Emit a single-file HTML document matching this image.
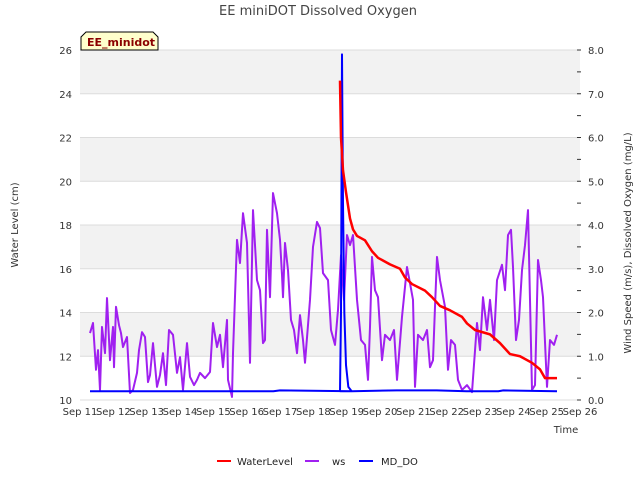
<!DOCTYPE html>
<html><head><meta charset="utf-8"><style>
body{margin:0;background:#fff;width:640px;height:480px;overflow:hidden;font-family:"Liberation Sans",sans-serif}
</style></head><body>
<svg id="chart" width="640" height="480" xmlns="http://www.w3.org/2000/svg" font-family="DejaVu Sans, Liberation Sans, sans-serif">
<text x="318" y="15" text-anchor="middle" font-size="13" fill="#444">EE miniDOT Dissolved Oxygen</text>
<g id="bands"></g>
<g id="grid"></g>
<g id="axes"></g>
<g id="series"></g>
<g>
<path d="M81,50 L81,37 L86,32 L153,32 L158,37 L158,50 Z" fill="#ffffcc" stroke="#000" stroke-width="1"/>
<text x="87" y="46" font-size="11" font-weight="bold" fill="#8b0000">EE_minidot</text>
</g>
<text transform="translate(18,225) rotate(-90)" text-anchor="middle" font-size="10" fill="#333">Water Level (cm)</text>
<text transform="translate(631,243) rotate(-90)" text-anchor="middle" font-size="10" fill="#333">Wind Speed (m/s), Dissolved Oxygen (mg/L)</text>
<text x="566" y="433" text-anchor="middle" font-size="10" fill="#333">Time</text>
<g font-size="10" fill="#222">
<g><line x1="217" y1="461" x2="231" y2="461" stroke="#ff0000" stroke-width="2"/><text x="237" y="465">WaterLevel</text></g>
<g><line x1="305" y1="461" x2="319" y2="461" stroke="#a020f0" stroke-width="2"/><text x="332" y="465">ws</text></g>
<g><line x1="359" y1="461" x2="373" y2="461" stroke="#0000ff" stroke-width="2"/><text x="381" y="465">MD_DO</text></g>
</g>
</svg>
<script>
const xTickLabels=["Sep 11","Sep 12","Sep 13","Sep 14","Sep 15","Sep 16","Sep 17","Sep 18","Sep 19","Sep 20","Sep 21","Sep 22","Sep 23","Sep 24","Sep 25","Sep 26"];
const leftTicks=[10,12,14,16,18,20,22,24,26];
const bandStarts=[12,16,20,24];
const rightTicks=["0.0","1.0","2.0","3.0","4.0","5.0","6.0","7.0","8.0"];
const wlDays=[7.80,7.83,7.89,7.98,8.10,8.19,8.31,8.55,8.76,8.94,9.30,9.60,9.75,9.96,10.35,10.56,10.80,11.10,11.46,11.61,11.85,12.30,12.60,12.90,13.20,13.56,13.80,13.95,14.31];
const wlValues=[24.6,22.0,20.5,19.5,18.3,17.8,17.5,17.3,16.8,16.5,16.2,16.0,15.6,15.3,15.0,14.7,14.3,14.1,13.8,13.5,13.2,13.0,12.6,12.1,12.0,11.7,11.4,11.0,11.0];
const wsDays=[0.30,0.39,0.48,0.54,0.60,0.66,0.75,0.81,0.90,0.99,1.02,1.08,1.17,1.23,1.29,1.41,1.50,1.59,1.71,1.77,1.86,1.95,2.04,2.10,2.19,2.31,2.40,2.49,2.58,2.67,2.79,2.91,3.00,3.09,3.21,3.30,3.42,3.51,3.60,3.75,3.90,3.99,4.11,4.20,4.29,4.41,4.44,4.56,4.59,4.71,4.80,4.89,5.01,5.10,5.19,5.31,5.40,5.49,5.55,5.61,5.70,5.79,5.91,6.00,6.06,6.09,6.15,6.24,6.33,6.42,6.51,6.60,6.69,6.75,6.90,6.99,7.11,7.20,7.29,7.44,7.53,7.65,7.74,7.83,7.92,8.01,8.10,8.19,8.31,8.43,8.55,8.64,8.70,8.76,8.85,8.94,9.06,9.15,9.30,9.42,9.51,9.66,9.81,9.90,9.99,10.05,10.14,10.29,10.41,10.50,10.59,10.65,10.71,10.80,10.95,11.04,11.13,11.25,11.34,11.46,11.61,11.76,11.91,12.00,12.09,12.21,12.30,12.42,12.51,12.66,12.75,12.84,12.93,12.99,13.08,13.17,13.26,13.35,13.44,13.56,13.65,13.74,13.83,13.89,14.01,14.10,14.22,14.31];
const wsValues=[1.53,1.76,0.69,1.14,0.23,1.67,1.07,2.33,0.91,1.67,0.75,2.13,1.71,1.53,1.21,1.44,0.16,0.23,0.62,1.14,1.55,1.44,0.41,0.57,1.30,0.30,0.57,1.07,0.34,1.60,1.49,0.62,0.98,0.23,1.30,0.53,0.34,0.46,0.62,0.50,0.64,1.76,1.21,1.49,0.75,1.83,0.46,0.07,1.07,3.66,3.13,4.27,3.59,0.85,4.34,2.74,2.51,1.30,1.37,3.89,2.35,4.73,4.27,3.66,2.86,2.35,3.59,2.97,1.83,1.60,1.07,1.94,1.37,0.85,2.29,3.50,4.07,3.93,2.90,2.74,1.60,1.26,2.06,3.31,2.29,3.77,3.54,3.77,2.29,1.37,1.26,0.46,1.67,3.27,2.51,2.35,0.91,1.49,1.37,1.60,0.46,1.90,3.04,2.67,2.29,0.30,1.49,1.37,1.60,0.75,0.91,2.13,3.27,2.74,2.13,0.69,1.37,1.26,0.46,0.23,0.34,0.18,1.76,1.14,2.35,1.60,2.29,1.37,2.74,3.09,2.51,3.77,3.89,3.04,1.37,1.83,2.97,3.54,4.34,0.23,0.34,3.20,2.74,2.35,0.30,1.37,1.26,1.49];
const doDays=[0.30,3.00,5.80,6.00,8.20,7.80,7.83,7.86,7.89,7.93,7.98,8.05,8.15,9.50,10.70,11.60,12.55,12.70,14.31];
const doValues=[0.20,0.20,0.20,0.22,0.20,0.20,2.0,7.9,4.5,2.0,0.8,0.30,0.20,0.22,0.22,0.20,0.20,0.22,0.20];

const L=80,R=580,T=50,B=400;
const xS=d=>L+(R-L)*d/15;
const yL=v=>B-(B-T)*(v-10)/16;
const yR=v=>B-(B-T)*v/8;
const NS="http://www.w3.org/2000/svg";
function mk(tag,attrs,parent){const e=document.createElementNS(NS,tag);for(const k in attrs)e.setAttribute(k,attrs[k]);parent.appendChild(e);return e;}
const bands=document.getElementById('bands'),grid=document.getElementById('grid'),axes=document.getElementById('axes'),series=document.getElementById('series');
mk('rect',{x:L,y:T,width:R-L,height:B-T,fill:'#fff'},bands);
bandStarts.forEach(v=>{
 const b=mk('rect',{x:L,y:yL(v+2),width:R-L,height:yL(v)-yL(v+2),fill:'#f2f2f2'},bands);
 
 
});
leftTicks.forEach(v=>{
 const g=mk('line',{x1:L,x2:R,y1:yL(v),y2:yL(v),stroke:'#dcdcdc','stroke-width':1},grid);
 
 
 const t=mk('text',{x:L-8,y:yL(v)+4,'text-anchor':'end','font-size':10,fill:'#333'},axes);t.textContent=v;
 
 
});
rightTicks.forEach((s,i)=>{
 const y=yR(+s);
 mk('line',{x1:R-3,x2:R+1,y1:y,y2:y,stroke:'#333'},axes);
 if(i<8)mk('line',{x1:R-3,x2:R+1,y1:yR(+s+0.5),y2:yR(+s+0.5),stroke:'#333'},axes);
 const t=mk('text',{x:R+8,y:y+4,'font-size':10,fill:'#333'},axes);t.textContent=s;
 
 
});
xTickLabels.forEach((s,i)=>{
 const t=mk('text',{x:xS(i),y:B+15,'text-anchor':'middle','font-size':10,fill:'#333'},axes);t.textContent=s;
 
 
});
function line(days,vals,sc,color,w,name){
 const p=mk('polyline',{points:days.map((d,i)=>xS(d)+','+sc(vals[i])).join(' '),fill:'none',stroke:color,'stroke-width':w,'stroke-linejoin':'round'},series);
 
 
}
line(wsDays,wsValues,yR,'#a020f0',2,'ws-line');
line(doDays,doValues,yR,'#0000ff',2,'md-do-line');
line(wlDays,wlValues,yL,'#ff0000',2.5,'waterlevel-line');
</script>
</body></html>
